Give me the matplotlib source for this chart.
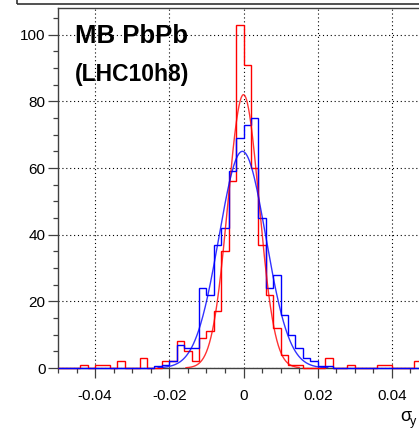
import matplotlib
matplotlib.use("Agg")
import matplotlib.pyplot as plt
import numpy as np
from matplotlib.patches import Rectangle
from matplotlib.ticker import MultipleLocator

# histogram binning (0.002 wide bins over the axis range)
bin_edges = np.round(np.arange(-0.05, 0.0501, 0.002), 4)

# counts per bin (50 bins, left to right)
red_counts = [
    0, 0, 0, 1, 0, 1, 1, 0, 2, 0,
    0, 3, 0, 0, 2, 2, 8, 5, 2, 9,
    11, 17, 35, 56, 103, 91, 60, 37, 22, 12,
    4, 1, 1, 0, 0, 0, 3, 0, 0, 1,
    0, 0, 0, 1, 1, 0, 0, 0, 2, 0,
]
blue_counts = [
    0, 0, 0, 0, 0, 0, 0, 0, 0, 0,
    0, 0, 0, 0.5, 1, 2, 7, 6, 6, 24,
    22, 37, 42, 59, 69, 73, 75, 45, 24, 28,
    16, 10, 6, 3, 2, 0.5, 0.5, 0, 0, 0,
    0, 0, 0, 0, 0, 0, 0, 0, 0, 0,
]

# gaussian fit results
red_fit_amp, red_fit_mean, red_fit_sigma = 82.0, 0.0, 0.0042
red_fit_range = (-0.0155, 0.015)
blue_fit_amp, blue_fit_mean, blue_fit_sigma = 65.0, -0.0003, 0.0063
blue_fit_range = (-0.023, 0.0227)

y_max = 108


def gauss(x, amp, mean, sigma):
    return amp * np.exp(-0.5 * ((x - mean) / sigma) ** 2)


def main():
    plt.rcParams["font.family"] = ["Liberation Sans", "DejaVu Sans"]
    plt.rcParams["axes.unicode_minus"] = False

    W, H = 419, 428
    fig = plt.figure(figsize=(W / 100, H / 100), dpi=100)
    ax = fig.add_axes([58 / W, 60 / H, 371 / W, 360 / H])

    ax.stairs(red_counts, bin_edges, color="#ff0000", lw=1.0, baseline=0,
              zorder=3, clip_on=False)
    ax.stairs(blue_counts, bin_edges, color="#0000ff", lw=1.0, baseline=0,
              zorder=4, clip_on=False)

    xr = np.linspace(*red_fit_range, 300)
    ax.plot(xr, gauss(xr, red_fit_amp, red_fit_mean, red_fit_sigma),
            color="#ff0000", lw=1.0, alpha=0.8, zorder=5)
    xb = np.linspace(*blue_fit_range, 300)
    ax.plot(xb, gauss(xb, blue_fit_amp, blue_fit_mean, blue_fit_sigma),
            color="#0000ff", lw=1.0, alpha=0.8, zorder=5)

    ax.set_xlim(-0.05, 0.05)
    ax.set_ylim(0, y_max)

    ax.xaxis.set_major_locator(MultipleLocator(0.02))
    ax.xaxis.set_minor_locator(MultipleLocator(0.005))
    ax.yaxis.set_major_locator(MultipleLocator(20))
    ax.yaxis.set_minor_locator(MultipleLocator(5))
    ax.set_xticks([-0.04, -0.02, 0, 0.02, 0.04])
    ax.set_xticklabels(["-0.04", "-0.02", "0", "0.02", "0.04"])

    ax.grid(True, which="major", color="black", lw=0.8, linestyle=(0, (1, 2.5)))
    ax.set_axisbelow(True)

    axis_col = "#404040"
    for side in ["left", "bottom", "top"]:
        ax.spines[side].set_color(axis_col)
        ax.spines[side].set_linewidth(1.0)
        ax.spines[side].set_zorder(2)
    ax.spines["right"].set_visible(False)

    ax.tick_params(which="major", direction="out", length=7, width=0.9,
                   color=axis_col, labelsize=11, pad=2)
    ax.tick_params(which="minor", direction="out", length=3.5, width=0.9,
                   color=axis_col)
    ax.tick_params(axis="x", which="major", pad=8)

    fig.text(75 / W, 1 - 43 / H, "MB PbPb", fontsize=18.5, fontweight="bold",
             va="baseline", ha="left")
    fig.text(75 / W, 1 - 81 / H, "(LHC10h8)", fontsize=16.5, fontweight="bold",
             va="baseline", ha="left")

    fig.text(400 / W, 1 - 421 / H, "σ", fontsize=13, va="baseline", ha="left")
    fig.text(410 / W, 1 - 425 / H, "y", fontsize=9, va="baseline", ha="left")

    fig.add_artist(Rectangle((17 / W, 1 - 3.5 / H), 1.0, 0.2,
                             transform=fig.transFigure, fill=False,
                             edgecolor="#333333", lw=1.2, clip_on=False))

    fig.savefig("out.png", dpi=100)
    plt.close(fig)


if __name__ == "__main__":
    main()
